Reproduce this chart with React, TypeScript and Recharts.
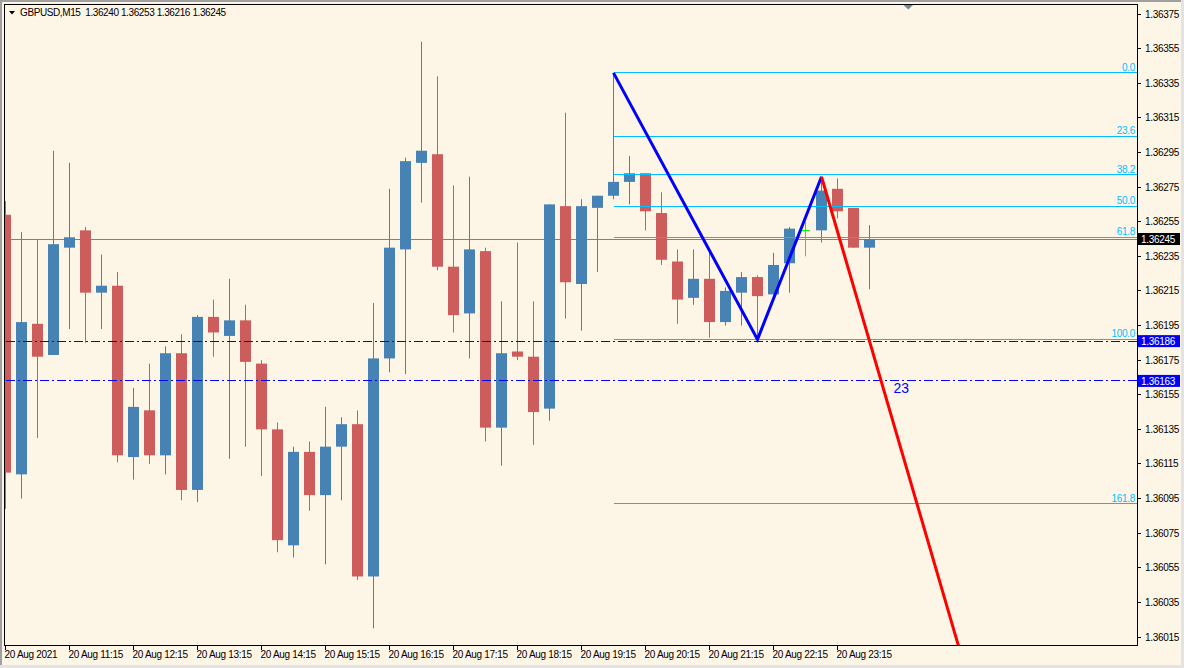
import React from 'react';
import { ComposedChart, Bar, Line, Scatter, XAxis, YAxis, ReferenceLine } from 'recharts';

// GBPUSD M15 candles, one per 15 minutes starting 20 Aug 10:15
const opens = [
  1.36259, 1.36109, 1.36196, 1.36178, 1.36240, 1.36250, 1.36214, 1.36218, 1.36119, 1.36146,
  1.36120, 1.36179, 1.36100, 1.36200, 1.36189, 1.36198, 1.36173, 1.36135, 1.36068, 1.36122,
  1.36097, 1.36125, 1.36138, 1.36050, 1.36176, 1.36239, 1.36289, 1.36294, 1.36229, 1.36202,
  1.36238, 1.36136, 1.36180, 1.36177, 1.36147, 1.36264, 1.36219, 1.36263, 1.36270, 1.36278,
  1.36283, 1.36260, 1.36232, 1.36211, 1.36222, 1.36197, 1.36214, 1.36223, 1.36213, 1.36231,
  1.36250, 1.36250, 1.36274, 1.36263, 1.36240,
];
const highs = [
  1.36267, 1.36249, 1.36245, 1.36296, 1.36289, 1.36252, 1.36236, 1.36226, 1.36159, 1.36173,
  1.36183, 1.36190, 1.36201, 1.36210, 1.36222, 1.36207, 1.36175, 1.36139, 1.36125, 1.36128,
  1.36148, 1.36142, 1.36146, 1.36208, 1.36274, 1.36292, 1.36359, 1.36339, 1.36276, 1.36281,
  1.36240, 1.36209, 1.36243, 1.36209, 1.36265, 1.36318, 1.36268, 1.36270, 1.36341, 1.36293,
  1.36283, 1.36272, 1.36239, 1.36239, 1.36238, 1.36217, 1.36226, 1.36224, 1.36237, 1.36252,
  1.36255, 1.36281, 1.36280, 1.36263, 1.36253,
];
const lows = [
  1.36089, 1.36095, 1.36130, 1.36178, 1.36193, 1.36185, 1.36193, 1.36116, 1.36106, 1.36115,
  1.36109, 1.36094, 1.36093, 1.36177, 1.36118, 1.36125, 1.36108, 1.36064, 1.36061, 1.36088,
  1.36057, 1.36094, 1.36048, 1.36020, 1.36168, 1.36167, 1.36266, 1.36227, 1.36191, 1.36176,
  1.36128, 1.36114, 1.36175, 1.36126, 1.36140, 1.36199, 1.36192, 1.36226, 1.36268, 1.36265,
  1.36250, 1.36230, 1.36196, 1.36207, 1.36188, 1.36195, 1.36195, 1.36187, 1.36213, 1.36214,
  1.36235, 1.36243, 1.36257, 1.36240, 1.36216,
];
const closes = [
  1.36110, 1.36197, 1.36177, 1.36242, 1.36246, 1.36214, 1.36218, 1.36120, 1.36148, 1.36120,
  1.36179, 1.36100, 1.36200, 1.36191, 1.36198, 1.36174, 1.36135, 1.36071, 1.36122, 1.36097,
  1.36125, 1.36138, 1.36050, 1.36176, 1.36240, 1.36290, 1.36296, 1.36229, 1.36201, 1.36239,
  1.36136, 1.36179, 1.36177, 1.36145, 1.36265, 1.36220, 1.36264, 1.36270, 1.36278, 1.36283,
  1.36261, 1.36233, 1.36210, 1.36222, 1.36197, 1.36215, 1.36223, 1.36212, 1.36230, 1.36251,
  1.36250, 1.36273, 1.36261, 1.36240, 1.36245,
];

const timeTicks = [0, 4, 8, 12, 16, 20, 24, 28, 32, 36, 40, 44, 48, 52];
const timeLabels = [
  '20 Aug 2021', '20 Aug 11:15', '20 Aug 12:15', '20 Aug 13:15', '20 Aug 14:15',
  '20 Aug 15:15', '20 Aug 16:15', '20 Aug 17:15', '20 Aug 18:15', '20 Aug 19:15',
  '20 Aug 20:15', '20 Aug 21:15', '20 Aug 22:15', '20 Aug 23:15',
];
const priceTicks = [
  1.36375, 1.36355, 1.36335, 1.36315, 1.36295, 1.36275, 1.36255, 1.36235, 1.36215, 1.36195,
  1.36175, 1.36155, 1.36135, 1.36115, 1.36095, 1.36075, 1.36055, 1.36035, 1.36015,
];

// fibonacci retracement drawn from bar 38
const fibStart = 38;
const fibLevels = [1.36341, 1.363045, 1.36282, 1.36264, 1.36246, 1.36187, 1.36092];
const fibLabels = ['0.0', '23.6', '38.2', '50.0', '61.8', '100.0', '161.8'];

// zigzag legs
const zigzagBars = [38, 47, 51];
const zigzagPrices = [1.36341, 1.36187, 1.36281];
const projectionBars = [51, 60];
const projectionPrices = [1.36281, 1.35996];

const bidPrice = 1.36245;
const hLinePrices = [1.36186, 1.36163];
const textNotes = [{ i: 55.5, p: 1.36163, text: '23' }];

const BG = '#FDF5E6';
const BULL = '#4682B4';
const BEAR = '#CD5C5C';
const DOJI = '#00FF00';
const FIB = '#00BFFF';
const FONT = "'Liberation Sans', Arial, sans-serif";

const X_MIN = -0.09375;
const X_MAX = 70.71875;
const Y_MIN = 1.360104;
const Y_MAX = 1.363808;

const candles = opens.map((o, i) => ({ i, o, h: highs[i], l: lows[i], c: closes[i] }));
const zigzagData = zigzagBars.map((i, k) => ({ i, p: zigzagPrices[k] }));
const projectionData = projectionBars.map((i, k) => ({ i, p: projectionPrices[k] }));

function Candle(props: any) {
  const { x, y, width, height, payload } = props;
  if (!payload || x == null || y == null) return null;
  const { o, h, l, c } = payload;
  const cx = Math.floor(x + width / 2) + 0.5;
  const top = Math.min(y, y + height);
  const span = Math.abs(height);
  const py = (p: number) => top + ((h - p) / (h - l)) * span;
  if (o === c) {
    const yy = Math.round(py(o)) + 0.5;
    return (
      <g>
        <line x1={cx} x2={cx} y1={top} y2={top + span} stroke={DOJI} />
        <line x1={cx - 4.5} x2={cx + 4.5} y1={yy} y2={yy} stroke={DOJI} />
      </g>
    );
  }
  const color = c > o ? BULL : BEAR;
  const bTop = py(Math.max(o, c));
  const bBot = py(Math.min(o, c));
  return (
    <g>
      <line x1={cx} x2={cx} y1={top} y2={top + span} stroke={color} />
      <rect x={cx - 5.5} y={bTop} width={11} height={Math.max(1, bBot - bTop)} fill={color} />
    </g>
  );
}

function TimeTick(props: any) {
  const { x, y, payload } = props;
  const label = timeLabels[timeTicks.indexOf(payload.value)];
  return (
    <g>
      <line x1={x} x2={x} y1={y} y2={y + 5} stroke="#000" shapeRendering="crispEdges" />
      <text x={x - 1} y={y + 13} fontSize={10} fontFamily={FONT} letterSpacing={-0.3} fill="#000">
        {label}
      </text>
    </g>
  );
}

function PriceTick(props: any) {
  const { x, y, payload } = props;
  return (
    <g>
      <line x1={x} x2={x + 4} y1={y} y2={y} stroke="#000" shapeRendering="crispEdges" />
      <text x={x + 8} y={y + 3.5} fontSize={10} fontFamily={FONT} letterSpacing={-0.3} fill="#000">
        {Number(payload.value).toFixed(5)}
      </text>
    </g>
  );
}

function priceBox(value: number, bg: string) {
  return (p: any) => {
    const vb = p.viewBox || {};
    const bx = vb.x + vb.width + 1;
    const by = vb.y;
    return (
      <g>
        <rect x={bx} y={by - 6} width={42} height={12} fill={bg} />
        <text x={bx + 3} y={by + 4} fontSize={10} fontFamily={FONT} letterSpacing={-0.3} fill="#fff">
          {value.toFixed(5)}
        </text>
      </g>
    );
  };
}

function fibLabel(text: string) {
  return (p: any) => {
    const vb = p.viewBox || {};
    return (
      <text x={vb.x + vb.width - 2} y={vb.y - 2} textAnchor="end" fontSize={10}
        fontFamily={FONT} letterSpacing={-0.3} fill={FIB}>
        {text}
      </text>
    );
  };
}

function NoteText(props: any) {
  const { cx, cy, payload } = props;
  return (
    <text x={cx} y={cy + 12} fontSize={14} fontFamily={FONT} fill="#0000FF">
      {payload.text}
    </text>
  );
}

export default function App() {
  return (
    <div style={{ position: 'absolute', left: 0, top: 0, width: 1184, height: 668, background: BG, overflow: 'hidden' }}>
      <ComposedChart
        width={1184}
        height={668}
        data={candles}
        margin={{ top: 4, right: 0, bottom: 0, left: 4 }}
      >
        <XAxis
          dataKey="i"
          type="number"
          domain={[X_MIN, X_MAX]}
          allowDataOverflow
          ticks={timeTicks}
          interval={0}
          tick={(p: any) => <TimeTick {...p} />}
          tickLine={false}
          tickSize={0}
          tickMargin={0}
          axisLine={false}
          height={23}
        />
        <YAxis
          orientation="right"
          type="number"
          domain={[Y_MIN, Y_MAX]}
          allowDataOverflow
          ticks={priceTicks}
          interval={0}
          tick={(p: any) => <PriceTick {...p} />}
          tickLine={false}
          tickSize={0}
          tickMargin={0}
          axisLine={false}
          width={47}
        />
        <ReferenceLine y={bidPrice} stroke="#808080" shapeRendering="crispEdges" zIndex={100}
          label={priceBox(bidPrice, '#000')} />
        <Bar dataKey={(d: any) => [d.l, d.h]} shape={(p: any) => <Candle {...p} />}
          isAnimationActive={false} zIndex={300} />
        {fibLevels.map((lv, k) => (
          <ReferenceLine key={'fib' + k} segment={[{ x: fibStart, y: lv }, { x: X_MAX, y: lv }]}
            stroke={FIB} shapeRendering="crispEdges" zIndex={350} label={fibLabel(fibLabels[k])} />
        ))}
        {hLinePrices.map((pr, k) => (
          <ReferenceLine key={'hl' + k} y={pr} stroke="#0000FF" strokeDasharray="9 3 2 3"
            shapeRendering="crispEdges" zIndex={350} label={priceBox(pr, '#0000FF')} />
        ))}
        <Line data={zigzagData} dataKey="p" stroke="#0000FF" strokeWidth={3} dot={false}
          isAnimationActive={false} zIndex={400} />
        <Line data={projectionData} dataKey="p" stroke="#FF0000" strokeWidth={3} dot={false}
          isAnimationActive={false} zIndex={400} />
        <Scatter data={textNotes} dataKey="p" shape={(p: any) => <NoteText {...p} />}
          isAnimationActive={false} zIndex={600} />
      </ComposedChart>
      <svg width={1184} height={668} style={{ position: 'absolute', left: 0, top: 0, pointerEvents: 'none' }}>
        <rect x={0} y={0} width={1184} height={2} fill="#A0A0A0" />
        <rect x={0} y={0} width={2} height={668} fill="#A0A0A0" />
        <rect x={0} y={665} width={1184} height={3} fill="#E3E3E3" />
        <rect x={1181} y={0} width={3} height={668} fill="#E3E3E3" />
        <rect x={4.5} y={4.5} width={1133} height={641} fill="none" stroke="#000" />
        <polygon points="9,11 15,11 12,14.5" fill="#000" />
        <polygon points="903.5,5 913,5 908.3,9.5" fill="#778899" />
        <text x={20} y={16} fontSize={10} fontFamily={FONT} letterSpacing={-0.4} fill="#000"
          style={{ whiteSpace: 'pre' }}>
          {'GBPUSD,M15  1.36240 1.36253 1.36216 1.36245'}
        </text>
      </svg>
    </div>
  );
}
